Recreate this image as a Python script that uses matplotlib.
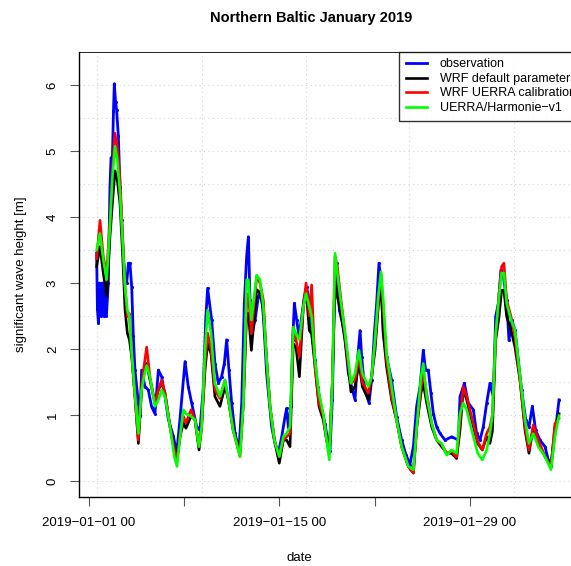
import matplotlib
matplotlib.use("Agg")
from matplotlib import pyplot as plt

plt.rcParams['font.family'] = ['Liberation Sans', 'DejaVu Sans']

# observed significant wave height, time in days since 2019-01-01 00
obs_day = [0.56, 0.62, 0.69, 0.78, 0.88, 0.98, 1.08, 1.18, 1.28, 1.42, 1.54, 1.62, 1.72, 1.8,
           1.86, 1.95, 2.03, 2.16, 2.28, 2.4, 2.52, 2.65, 2.77, 2.9, 3.01, 3.14, 3.26, 3.38,
           3.63, 3.75, 3.87, 4.12, 4.36, 4.61, 4.85, 5.1, 5.34, 5.59, 5.83, 6.2, 6.45, 6.69,
           7.06, 7.3, 7.55, 7.92, 8.16, 8.41, 8.58, 8.72, 9.02, 9.26, 9.51, 9.75, 9.95, 10.12,
           10.29, 10.49, 10.74, 11.03, 11.23, 11.42, 11.59, 11.72, 11.84, 11.99, 12.21, 12.45,
           12.65, 12.82, 12.94, 13.06, 13.24, 13.43, 13.68, 13.92, 14.17, 14.41, 14.53, 14.66,
           14.85, 14.98, 15.1, 15.27, 15.44, 15.64, 15.83, 16.0, 16.18, 16.37, 16.62, 16.81,
           17.06, 17.35, 17.55, 17.72, 17.89, 18.04, 18.21, 18.41, 18.63, 18.82, 19.07, 19.31,
           19.56, 19.76, 19.93, 20.05, 20.25, 20.59, 20.78, 20.98, 21.15, 21.32, 21.47, 21.64,
           21.88, 22.25, 22.62, 22.99, 23.3, 23.6, 23.85, 24.09, 24.34, 24.58, 24.75, 24.95,
           25.14, 25.32, 25.56, 25.81, 26.18, 26.67, 27.16, 27.28, 27.6, 27.89, 28.26, 28.5,
           28.75, 28.99, 29.24, 29.48, 29.73, 29.9, 30.1, 30.29, 30.47, 30.71, 30.88, 31.08,
           31.32, 31.57, 31.81, 32.11, 32.35, 32.6, 32.84, 33.16, 33.53, 33.77, 33.97, 34.14,
           34.39, 34.56]
obs_hs = [3.45, 2.6, 2.4, 3.0, 2.5, 3.0, 2.5, 2.9, 2.5, 3.0, 4.45, 4.9, 4.9, 5.6,
          6.02, 5.75, 5.62, 5.22, 4.45, 3.96, 3.4, 3.1, 3.0, 3.3, 3.3, 2.94, 2.19, 1.68,
          1.18, 0.98, 1.68, 1.43, 1.38, 1.12, 1.02, 1.68, 1.58, 1.28, 0.94, 0.68, 0.42, 0.94,
          1.81, 1.43, 1.18, 0.82, 0.77, 1.43, 2.44, 2.92, 2.44, 1.78, 1.48, 1.58, 1.78, 2.14,
          1.68, 1.18, 0.72, 0.47, 1.18, 2.69, 3.4, 3.7, 2.74, 2.23, 2.44, 2.79,
          2.89, 2.49, 2.08, 1.63, 1.23, 0.82, 0.57, 0.42, 0.67, 0.97, 1.10, 0.82,
          1.13, 2.14, 2.69, 2.44, 2.19, 2.49, 2.79, 2.94, 2.74, 2.29, 1.83, 1.43,
          1.13, 0.87, 0.62, 0.45, 1.23, 2.74, 3.3, 2.59, 2.39, 2.14, 1.63, 1.43,
          1.23, 1.88, 2.28, 1.88, 1.43, 1.18, 1.53, 2.23, 2.69, 3.3, 3.05, 2.23,
          1.88, 1.53, 0.97, 0.62, 0.4, 0.25, 0.52, 1.13, 1.43, 1.98, 1.68, 1.68,
          1.33, 1.02, 0.82, 0.72, 0.62, 0.67, 0.62, 1.28, 1.48, 1.18, 1.08, 0.72,
          0.62, 0.82, 1.18, 1.48, 1.28, 2.49, 2.69, 3.2, 3.1, 2.74, 2.13, 2.44,
          2.29, 1.83, 1.38, 0.93, 0.82, 1.13, 0.77, 0.62, 0.52, 0.32, 0.22, 0.52,
          0.93, 1.23]

# model runs on a shared time axis
mod_day = [0.56, 0.81, 1.05, 1.3, 1.54, 1.72, 1.91, 2.08, 2.28, 2.48, 2.65, 2.82, 2.97, 3.14,
           3.38, 3.63, 3.87, 4.04, 4.24, 4.48, 4.85, 5.1, 5.34, 5.59, 5.96, 6.27, 6.47, 6.69,
           6.94, 7.13, 7.5, 7.79, 8.09, 8.28, 8.53, 8.72, 8.97, 9.26, 9.63, 10.0, 10.25, 10.6,
           11.1, 11.35, 11.59, 11.72, 11.94, 12.33, 12.57, 12.82, 13.06, 13.31, 13.63, 13.99,
           14.29, 14.53, 14.78, 15.02, 15.22, 15.47, 15.76, 15.96, 16.2, 16.37, 16.62, 16.91,
           17.23, 17.47, 17.67, 17.89, 18.09, 18.26, 18.53, 18.77, 19.02, 19.26, 19.56, 19.85,
           20.1, 20.54, 20.78, 21.03, 21.27, 21.47, 21.64, 21.88, 22.25, 22.62, 22.99, 23.48,
           23.85, 24.1, 24.41, 24.58, 24.83, 25.2, 25.56, 25.93, 26.3, 26.66, 27.03, 27.28,
           27.52, 27.77, 28.14, 28.58, 28.92, 29.24, 29.48, 29.66, 29.9, 30.15, 30.34, 30.51,
           30.71, 31.03, 31.32, 31.69, 32.06, 32.35, 32.67, 33.04, 33.53, 33.97, 34.26, 34.56]
wrf_default = [3.25, 3.55, 3.15, 2.8, 3.7, 4.2, 4.7, 4.56, 4.2, 3.4, 2.59, 2.24, 2.14, 1.88,
               1.28, 0.57, 1.38, 1.68, 1.78, 1.53, 1.18, 1.38, 1.48, 1.33, 0.82, 0.47, 0.32, 0.67,
               0.88, 0.80, 0.98, 0.93, 0.47, 0.82, 1.68, 2.08, 1.93, 1.28, 1.13, 1.43, 1.23, 0.77,
               0.45, 1.18, 2.54, 2.54, 1.98, 2.9, 2.85, 2.6, 1.83, 1.13, 0.62, 0.27,
               0.62, 0.62, 0.52, 2.08, 2.03, 1.58, 2.64, 2.9, 2.28, 2.23, 1.73, 1.13,
               0.92, 0.62, 0.45, 1.48, 3.0, 2.79, 2.54, 2.23, 1.83, 1.35, 1.43, 1.78,
               1.43, 1.23, 1.58, 1.98, 2.64, 3.0, 2.23, 1.73, 1.23, 0.92, 0.52, 0.22,
               0.12, 0.82, 1.33, 1.48, 1.18, 0.82, 0.62, 0.52, 0.42, 0.42, 0.34, 0.77,
               1.38, 1.23, 0.92, 0.57, 0.47, 0.67, 0.57, 0.75, 2.13, 2.49, 2.89, 2.89,
               2.49, 2.29, 2.03, 1.53, 0.77, 0.42, 0.82, 0.57, 0.37, 0.22, 0.82, 1.02]
wrf_uerra = [3.37, 3.95, 3.4, 3.15, 3.95, 4.7, 5.27, 5.07, 4.56, 3.7, 2.94, 2.49, 2.54, 1.94,
             1.28, 0.62, 1.43, 1.73, 2.03, 1.58, 1.18, 1.38, 1.53, 1.33, 0.82, 0.47, 0.32, 0.67,
             0.98, 0.88, 1.08, 0.93, 0.52, 0.82, 1.78, 2.24, 2.0, 1.38, 1.25, 1.53, 1.23, 0.77,
             0.37, 1.18, 2.69, 2.84, 2.23, 3.1, 3.0, 2.74, 1.83, 1.13, 0.62, 0.37,
             0.62, 0.67, 0.72, 2.33, 2.14, 1.88, 2.64, 3.0, 2.5, 2.97, 1.73, 1.18,
             0.98, 0.62, 0.42, 1.48, 3.4, 3.25, 2.74, 2.33, 1.83, 1.48, 1.53, 1.88,
             1.5, 1.33, 1.58, 2.1, 2.74, 3.15, 2.6, 1.83, 1.28, 0.92, 0.52, 0.22,
             0.12, 0.82, 1.4, 1.63, 1.33, 0.87, 0.62, 0.55, 0.42, 0.45, 0.36, 0.9,
             1.43, 1.28, 0.97, 0.6, 0.47, 0.72, 0.82, 1.0, 2.2, 2.84, 3.25, 3.3,
             2.74, 2.49, 2.18, 1.53, 0.82, 0.47, 0.85, 0.62, 0.37, 0.22, 0.87, 0.95]
uerra_harmonie = [3.5, 3.75, 3.35, 3.05, 3.85, 4.6, 5.07, 4.87, 4.36, 3.6, 2.94, 2.59, 2.49, 1.94,
                  1.3, 0.72, 1.38, 1.58, 1.75, 1.58, 1.13, 1.23, 1.38, 1.28, 0.82, 0.37, 0.22, 0.67,
                  1.08, 1.02, 0.98, 0.93, 0.52, 0.82, 1.98, 2.59, 2.24, 1.48, 1.28, 1.53, 1.23, 0.77,
                  0.37, 1.18, 3.05, 3.05, 2.44, 3.12, 3.05, 2.64, 1.83, 1.13, 0.62, 0.37,
                  0.67, 0.72, 0.82, 2.33, 2.23, 2.14, 2.64, 2.84, 2.64, 2.49, 1.83, 1.33,
                  1.02, 0.62, 0.32, 1.48, 3.45, 3.15, 2.69, 2.33, 1.93, 1.48, 1.63, 1.98,
                  1.63, 1.43, 1.58, 2.14, 2.79, 3.17, 2.74, 1.93, 1.43, 0.92, 0.52, 0.22,
                  0.17, 0.82, 1.58, 1.78, 1.28, 0.87, 0.62, 0.57, 0.39, 0.47, 0.42, 1.02,
                  1.18, 1.08, 0.77, 0.42, 0.32, 0.47, 0.72, 1.0, 2.23, 2.79, 3.15, 3.15,
                  2.69, 2.44, 2.29, 1.6, 0.93, 0.57, 0.72, 0.52, 0.37, 0.17, 0.67, 0.99]

tick_days = [0, 7, 14, 21, 28]
tick_labels = ['2019\u221201\u221201 00', '', '2019\u221201\u221215 00', '', '2019\u221201\u221229 00']
grid_days = [0.57, 8.29, 15.93, 23.54, 31.25]
yticks = [0, 1, 2, 3, 4, 5, 6]

W, H = 571, 566
fig = plt.figure(figsize=(W / 100, H / 100), dpi=100)
ax = fig.add_axes([79 / W, 1 - 497 / H, (600 - 79) / W, (497 - 51.5) / H])

for g in [i * 0.5 for i in range(14)]:
    ax.axhline(g, color='#d3d3d3', lw=0.8, ls=(0, (1, 3)), zorder=0)
for g in grid_days:
    ax.axvline(g, color='#d3d3d3', lw=0.8, ls=(0, (1, 3)), zorder=0)

ax.plot(obs_day, obs_hs, color='#0000ff', lw=2.0, marker='.', ms=2.5, label='observation')
ax.plot(mod_day, wrf_default, color='black', lw=1.9, label='WRF default parameters')
ax.plot(mod_day, wrf_uerra, color='#ff0000', lw=1.9, label='WRF UERRA calibration')
ax.plot(mod_day, uerra_harmonie, color='#00ff00', lw=1.9, label='UERRA/Harmonie\u2212v1')

ax.set_xlim((79 - 89) / 13.6, (600 - 89) / 13.6)
ax.set_ylim((481 - 497) / 66, (481 - 51.5) / 66)

ax.spines['right'].set_visible(False)
ax.spines['top'].set_linestyle((0, (1.5, 1)))
ax.spines['top'].set_linewidth(0.6)
for s in ['left', 'bottom']:
    ax.spines[s].set_linewidth(1.0)

ax.set_xticks(tick_days)
ax.set_xticklabels(tick_labels, fontsize=9.5)
ax.set_yticks(yticks)
ax.set_yticklabels([str(v) for v in yticks], fontsize=9.5, rotation=90, va='center')
ax.tick_params(axis='x', length=6.5, width=0.8, color='#555555', pad=8)
ax.tick_params(axis='y', length=6.5, width=0.8, color='#555555', pad=8)

fig.text(311 / W, 1 - 18 / H, 'Northern Baltic January 2019', ha='center', va='center',
         fontsize=10.5, fontweight='bold')
fig.text(299 / W, 1 - 558 / H, 'date', ha='center', va='center', fontsize=9.5)
fig.text(21 / W, 1 - 274 / H, 'significant wave height [m]', ha='center', va='center',
         fontsize=9.5, rotation=90)

leg = ax.legend(loc='upper left', bbox_to_anchor=(399 / W, 1 - 51.5 / H),
                bbox_transform=fig.transFigure, borderaxespad=0, fontsize=9,
                frameon=True, fancybox=False, handlelength=1.7, handletextpad=1.0,
                labelspacing=0.2, borderpad=0.55)
leg.get_frame().set_edgecolor('black')
leg.get_frame().set_linewidth(1.0)
for h in leg.legend_handles:
    h.set_marker('')

fig.savefig('out.png', dpi=100)
